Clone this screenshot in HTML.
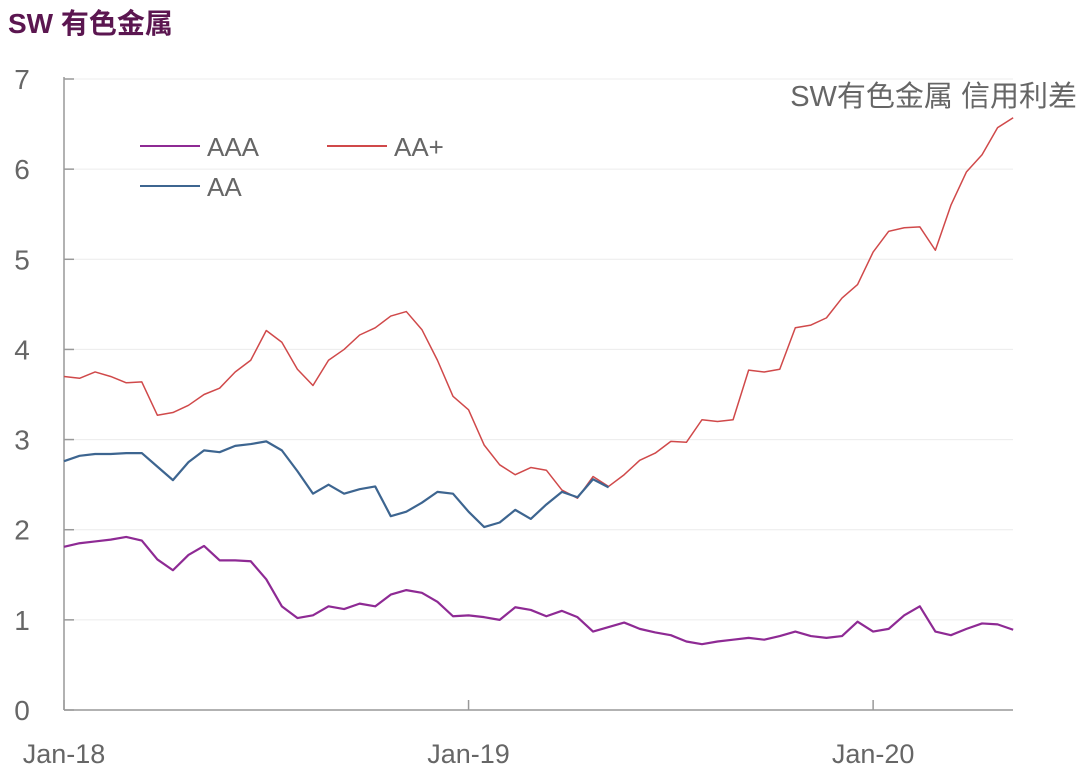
<!DOCTYPE html>
<html><head><meta charset="utf-8"><style>
body{margin:0;background:#fff;width:1080px;height:770px;overflow:hidden;font-family:"Liberation Sans","Noto Sans CJK SC",sans-serif}
</style></head><body>
<div style="position:absolute;left:8px;top:2px;font-size:28px;font-weight:bold;color:#5b1650">SW 有色金属</div>
<svg id="chart" width="1080" height="770" style="position:absolute;left:0;top:0"></svg>
<script>
const yTicks=[0,1,2,3,4,5,6,7];
const xTickLabels=["Jan-18","Jan-19","Jan-20"];
const xTickIdx=[0,26,52];
const seriesNames=["AAA","AA+","AA"];
const aaaVals=[1.81,1.85,1.87,1.89,1.92,1.88,1.67,1.55,1.72,1.82,1.66,1.66,1.65,1.45,1.15,1.02,1.05,1.15,1.12,1.18,1.15,1.28,1.33,1.30,1.20,1.04,1.05,1.03,1.00,1.14,1.11,1.04,1.10,1.03,0.87,0.92,0.97,0.90,0.86,0.83,0.76,0.73,0.76,0.78,0.80,0.78,0.82,0.87,0.82,0.80,0.82,0.98,0.87,0.90,1.05,1.15,0.87,0.83,0.90,0.96,0.95,0.89];
const aaPlusVals=[3.70,3.68,3.75,3.70,3.63,3.64,3.27,3.30,3.38,3.50,3.57,3.75,3.88,4.21,4.08,3.78,3.60,3.88,4.00,4.16,4.24,4.37,4.42,4.22,3.88,3.48,3.33,2.94,2.72,2.61,2.69,2.66,2.44,2.35,2.59,2.48,2.61,2.77,2.85,2.98,2.97,3.22,3.20,3.22,3.77,3.75,3.78,4.24,4.27,4.35,4.57,4.72,5.08,5.31,5.35,5.36,5.10,5.60,5.97,6.16,6.46,6.57];
const aaVals=[2.76,2.82,2.84,2.84,2.85,2.85,2.70,2.55,2.75,2.88,2.86,2.93,2.95,2.98,2.88,2.65,2.40,2.50,2.40,2.45,2.48,2.15,2.20,2.30,2.42,2.40,2.20,2.03,2.08,2.22,2.12,2.28,2.42,2.36,2.56,2.47];
const colors=["#8e2a94","#d0494a","#3d6590"];
const X0=64,X1=1013,Y0=710,YT=79;
const step=15.56;
function xs(i){return X0+i*step;}
function ys(v){return Y0-(v/7)*(Y0-YT);}
const svg=document.getElementById('chart');
const NS='http://www.w3.org/2000/svg';
function mk(t,a){const e=document.createElementNS(NS,t);for(const k in a)e.setAttribute(k,a[k]);svg.appendChild(e);return e;}
yTicks.forEach(v=>{
 if(v>0){const g=mk('line',{x1:X0,x2:X1,y1:ys(v),y2:ys(v),stroke:'#ececec','stroke-width':1});
 
 }
 const tk=mk('line',{x1:X0,x2:X0+10,y1:ys(v),y2:ys(v),stroke:'#999','stroke-width':1.5});
 
 
 const t=mk('text',{x:22,y:ys(v)+10,'font-size':28,fill:'#666','text-anchor':'middle'});
 t.textContent=v;
 
 
});
const ax=mk('line',{x1:X0,x2:X0,y1:YT-2,y2:Y0,stroke:'#999','stroke-width':1.5});


const xa=mk('line',{x1:X0,x2:X1,y1:Y0,y2:Y0,stroke:'#999','stroke-width':1.5});


xTickLabels.forEach((l,k)=>{
 const x=xs(xTickIdx[k]);
 const tk=mk('line',{x1:x,x2:x,y1:Y0,y2:Y0-10,stroke:'#999','stroke-width':1.5});
 
 
 const t=mk('text',{x:x,y:763,'font-size':27,fill:'#666','text-anchor':'middle'});
 t.textContent=l;
 
 
});
[aaaVals,aaPlusVals,aaVals].forEach((arr,s)=>{
 const p=mk('polyline',{points:arr.map((v,i)=>xs(i)+','+ys(v)).join(' '),fill:'none',stroke:colors[s],'stroke-width':s==1?1.5:2.2,'stroke-linejoin':'round'});
 
 
});
const legPos=[[140,146],[327,146],[140,186]];
seriesNames.forEach((n,s)=>{
 const [lx,ly]=legPos[s];
 const l=mk('line',{x1:lx,x2:lx+60,y1:ly,y2:ly,stroke:colors[s],'stroke-width':2});
 
 
 const t=mk('text',{x:lx+67,y:ly+10,'font-size':26,fill:'#666'});
 t.textContent=n;
 
 
});
const ct=mk('text',{x:1077,y:106,'font-size':29,fill:'#666','text-anchor':'end'});
ct.textContent='SW有色金属 信用利差';


</script>
</body></html>
